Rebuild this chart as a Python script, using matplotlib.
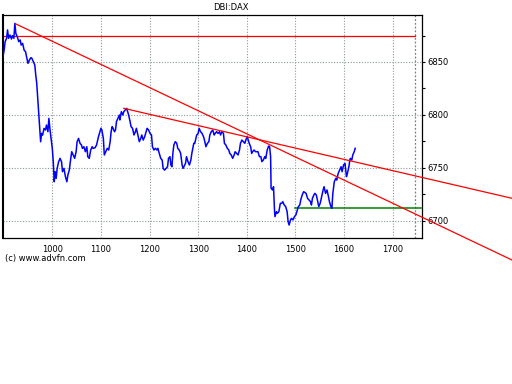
import numpy as np
import matplotlib
matplotlib.use("Agg")
import matplotlib.pyplot as plt

# DBI:DAX price trace (x = tick index, y = price)
px = [898, 901, 903, 906, 908, 910, 913, 916, 918, 921, 923, 925, 928, 931, 934, 936, 939, 942,
      945, 947, 950, 953, 956, 958, 961, 964, 966, 968, 970, 972, 974, 976, 978, 980, 983, 986,
      988, 991, 993, 995, 998, 1000, 1002, 1004, 1006, 1008, 1010, 1013, 1016, 1019, 1021, 1024,
      1027, 1030, 1032, 1035, 1038, 1040, 1043, 1046, 1049, 1051, 1054, 1057, 1060, 1062, 1065,
      1068, 1071, 1073, 1076, 1079, 1082, 1084, 1088, 1091, 1095, 1098, 1100, 1102, 1105, 1107,
      1110, 1113, 1116, 1119, 1121, 1123, 1125, 1128, 1130, 1132, 1135, 1138, 1139, 1142, 1145,
      1147, 1150, 1153, 1155, 1157, 1160, 1162, 1165, 1168, 1171, 1173, 1176, 1179, 1182, 1184,
      1187, 1190, 1193, 1195, 1198, 1201, 1204, 1206, 1209, 1212, 1215, 1217, 1220, 1223, 1226,
      1228, 1231, 1234, 1237, 1239, 1242, 1244, 1246, 1248, 1250, 1253, 1256, 1258, 1261, 1264,
      1267, 1269, 1274, 1276, 1279, 1282, 1285, 1287, 1289, 1291, 1293, 1297, 1300, 1302, 1305,
      1308, 1311, 1313, 1316, 1319, 1322, 1324, 1327, 1330, 1333, 1335, 1338, 1341, 1344, 1346,
      1349, 1352, 1354, 1357, 1360, 1363, 1365, 1368, 1371, 1374, 1376, 1379, 1382, 1385, 1387,
      1390, 1393, 1396, 1398, 1401, 1403, 1405, 1408, 1410, 1412, 1415, 1418, 1420, 1423, 1426,
      1429, 1431, 1434, 1437, 1439, 1442, 1445, 1447, 1449, 1450, 1453, 1455, 1457, 1458, 1461,
      1463, 1466, 1469, 1472, 1474, 1477, 1480, 1483, 1485, 1487, 1490, 1492, 1495, 1498, 1501,
      1503, 1506, 1509, 1511, 1514, 1517, 1520, 1522, 1525, 1528, 1531, 1533, 1535, 1538, 1540,
      1543, 1546, 1548, 1551, 1554, 1557, 1559, 1562, 1565, 1568, 1570, 1573, 1575, 1577, 1580,
      1583, 1585, 1588, 1591, 1594, 1596, 1599, 1602, 1605, 1607, 1610, 1612, 1613, 1616, 1618,
      1621, 1623]
price = [6853.5, 6861.3, 6869.2, 6872.4, 6880.3, 6872.4, 6875.5, 6871.7, 6874.9, 6872.4, 6886.5,
         6877.1, 6873.9, 6869.2, 6870.8, 6866.0, 6867.6, 6861.3, 6859.7, 6855.0, 6848.7, 6851.9,
         6854.1, 6853.5, 6850.3, 6847.1, 6837.7, 6829.8, 6815.6, 6799.8, 6787.2, 6774.6, 6782.5,
         6780.9, 6787.2, 6785.7, 6790.4, 6784.1, 6796.7, 6787.2, 6776.2, 6768.3, 6755.7, 6736.8,
         6746.3, 6740.0, 6749.4, 6755.7, 6758.9, 6755.7, 6746.3, 6749.4, 6741.6, 6736.8, 6743.1,
         6747.8, 6758.9, 6765.2, 6762.1, 6758.9, 6765.2, 6774.6, 6777.8, 6773.1, 6771.5, 6768.3,
         6769.9, 6765.2, 6769.9, 6760.5, 6758.9, 6766.8, 6769.9, 6768.3, 6769.0, 6771.5, 6779.4,
         6784.1, 6787.3, 6785.7, 6777.8, 6762.1, 6765.2, 6768.4, 6766.8, 6774.7, 6784.1, 6788.9,
         6787.3, 6784.1, 6785.7, 6793.6, 6796.7, 6799.9, 6795.2, 6803.0, 6799.9, 6803.0, 6804.6,
         6806.2, 6803.0, 6799.9, 6793.6, 6788.9, 6787.3, 6781.0, 6784.1, 6787.3, 6781.0, 6774.7,
         6777.8, 6781.0, 6776.2, 6779.4, 6784.1, 6787.3, 6785.7, 6782.5, 6781.0, 6769.9, 6766.8,
         6768.4, 6766.8, 6768.4, 6763.6, 6758.9, 6757.3, 6749.4, 6747.8, 6749.4, 6751.0, 6758.9,
         6760.5, 6752.6, 6751.0, 6763.6, 6771.5, 6774.7, 6773.1, 6768.4, 6766.8, 6763.6, 6752.6,
         6749.4, 6754.2, 6760.5, 6755.8, 6752.6, 6757.3, 6763.6, 6768.4, 6773.1, 6773.1, 6781.0,
         6782.5, 6787.3, 6784.1, 6782.5, 6779.4, 6776.2, 6769.9, 6773.1, 6774.7, 6781.0, 6784.1,
         6785.7, 6781.0, 6782.5, 6784.1, 6782.5, 6784.1, 6781.0, 6784.1, 6782.5, 6773.1, 6771.5,
         6768.4, 6766.8, 6763.6, 6762.1, 6758.9, 6762.1, 6765.2, 6763.6, 6762.1, 6766.8, 6773.1,
         6776.2, 6774.7, 6773.1, 6776.2, 6779.4, 6776.2, 6773.1, 6769.9, 6763.6, 6765.2, 6766.8,
         6765.2, 6765.2, 6765.2, 6760.5, 6760.5, 6755.8, 6757.3, 6760.5, 6758.9, 6766.8, 6770.6,
         6769.9, 6760.5, 6730.6, 6729.0, 6732.1, 6710.1, 6703.8, 6708.5, 6707.0, 6708.5, 6716.4,
         6716.4, 6718.0, 6714.8, 6713.3, 6708.5, 6699.1, 6695.9, 6700.7, 6702.2, 6700.7, 6703.8,
         6705.4, 6708.5, 6713.3, 6714.8, 6719.6, 6724.3, 6727.4, 6726.5, 6725.8, 6721.1, 6719.6,
         6718.0, 6714.8, 6721.1, 6724.3, 6725.8, 6724.3, 6718.0, 6713.3, 6716.4, 6722.7, 6729.0,
         6732.1, 6725.8, 6729.0, 6722.7, 6718.0, 6713.3, 6711.7, 6725.8, 6736.8, 6740.0, 6738.4,
         6744.7, 6747.9, 6751.0, 6746.3, 6752.6, 6754.2, 6741.6, 6744.7, 6751.0, 6757.3, 6758.9,
         6757.3, 6762.1, 6765.2, 6768.4]

# drawn lines: resistance level, support level, two falling trendlines
resist_level = 6875
support_level = 6711.7
trend1_x = [924, 1945]
trend1_y = [6886.2, 6662.9]
trend2_x = [1147, 1945]
trend2_y = [6806.2, 6721.2]

xticks = [1000, 1100, 1200, 1300, 1400, 1500, 1600, 1700]
yticks = [6700, 6750, 6800, 6850]

plt.rcParams['font.family'] = ['DejaVu Sans']

fig = plt.figure(figsize=(5.12, 3.84), dpi=100)
ax = fig.add_axes([2.7 / 512, 1 - 237.7 / 384, 419.6 / 512, 223 / 384])

ax.set_xlim(898, 1761)
ax.set_ylim(6683.9, 6894.7)

# grid
for xv in xticks:
    ax.axvline(xv, color='#8a9a9a', lw=0.8, ls=(0, (1, 1.5)), zorder=0)
for yv in yticks:
    ax.axhline(yv, color='#8a9a9a', lw=0.8, ls=(0, (1, 1.5)), zorder=0)
ax.axvline(1746, color='#6f8585', lw=0.9, ls=(0, (1.5, 1.5)), zorder=0)

ax.plot(px, price, color='#0000ff', lw=1.1, zorder=3)

ax.plot([898, 1746], [resist_level, resist_level], color='#ff0000', lw=0.9, zorder=2)
ax.plot([1500, 1758], [support_level, support_level], color='#008000', lw=1.1, zorder=2)
ax.plot(trend1_x, trend1_y, color='#ff0000', lw=0.9, clip_on=False, zorder=4)
ax.plot(trend2_x, trend2_y, color='#ff0000', lw=0.9, clip_on=False, zorder=4)

ax.set_xticks(xticks)
ax.set_xticklabels([str(v) for v in xticks], fontsize=6)
ax.tick_params(axis='x', length=0, pad=5)

ax.yaxis.tick_right()
ax.set_yticks(yticks)
ax.set_yticklabels([str(v) for v in yticks], fontsize=6)
ax.set_yticks([6725, 6775, 6825, 6875], minor=True)
ax.tick_params(axis='y', which='both', length=2, width=0.8, pad=1.5, direction='out')

for s in ax.spines.values():
    s.set_linewidth(0.9)
ax.spines['left'].set_linewidth(1.5)

fig.text(230.5 / 512, 1 - 8 / 384, 'DBI:DAX', ha='center', va='center', fontsize=6)
fig.text(5 / 512, 1 - 258.3 / 384, '(c) www.advfn.com', ha='left', va='center', fontsize=6)

fig.savefig('out.png', dpi=100)
